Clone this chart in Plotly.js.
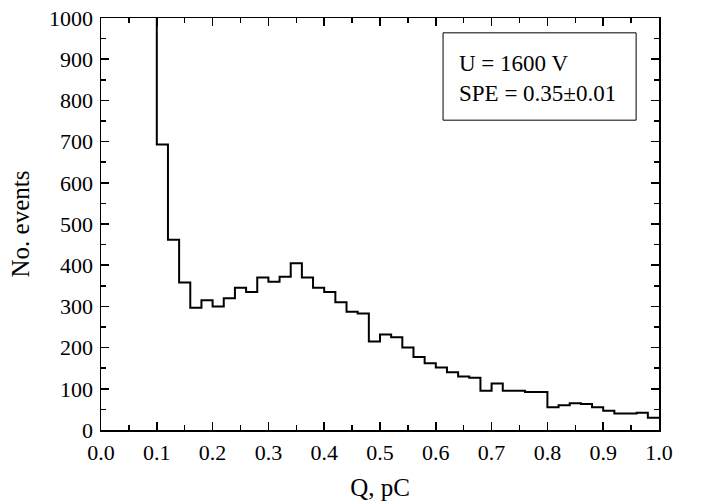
<!DOCTYPE html>
<html>
<head>
<meta charset="utf-8">
<script src="https://cdn.plot.ly/plotly-3.0.1.min.js"></script>
<style>html,body{margin:0;padding:0;background:#fff}#chart{width:702px;height:503px}</style>
</head>
<body>
<div id="chart"></div>
<script>
// Bin left edges (width 0.02 pC) and counts
const binLeft = [0.10,0.12,0.14,0.16,0.18,0.20,0.22,0.24,0.26,0.28,0.30,0.32,0.34,0.36,0.38,0.40,0.42,0.44,0.46,0.48,
                 0.50,0.52,0.54,0.56,0.58,0.60,0.62,0.64,0.66,0.68,0.70,0.72,0.74,0.76,0.78,0.80,0.82,0.84,0.86,0.88,
                 0.90,0.92,0.94,0.96,0.98];
const counts = [693,462,358,297,315,300,320,345,335,370,360,372,405,370,345,335,310,287,283,215,
                232,225,200,177,162,152,140,130,127,95,113,95,95,92,92,55,60,65,63,55,
                47,40,40,42,30];
const binWidth = 0.02;
const offScaleCount = 1200; // bins below 0.10 pC exceed the axis range
const xTicks = [0.0,0.1,0.2,0.3,0.4,0.5,0.6,0.7,0.8,0.9,1.0];
const yTicks = [0,100,200,300,400,500,600,700,800,900,1000];
const legendLines = ["U = 1600 V", "SPE = 0.35±0.01"];

const xs = [binLeft[0]].concat(binLeft, [binLeft[binLeft.length-1] + binWidth]);
const ys = [offScaleCount].concat(counts, [counts[counts.length-1]]);

const font = {family: "Liberation Serif, Times New Roman, serif", color: "#000"};
const axisCommon = {
  showline: true, linecolor: "#000", linewidth: 1.5, mirror: "ticks",
  ticks: "inside", ticklen: 8, tickwidth: 1.5, tickcolor: "#000",
  showgrid: false, zeroline: false,
  tickfont: Object.assign({size: 22}, font)
};

const layout = {
  width: 702, height: 503,
  margin: {l: 101, r: 43, t: 18, b: 73},
  paper_bgcolor: "#fff", plot_bgcolor: "#fff",
  showlegend: false,
  xaxis: Object.assign({}, axisCommon, {
    range: [0, 1], tickvals: xTicks, ticktext: xTicks.map(v => v.toFixed(1)),
    ticklabelstandoff: 2,
    minor: {ticks: "inside", ticklen: 5, tickwidth: 1.5, tickcolor: "#000", dtick: 0.05, showgrid: false},
    title: {text: "Q, pC", font: Object.assign({size: 25}, font), standoff: 14}
  }),
  yaxis: Object.assign({}, axisCommon, {
    range: [0, 1000], tickvals: yTicks, ticktext: yTicks.map(String),
    ticklabelstandoff: 2,
    minor: {ticks: "inside", ticklen: 5, tickwidth: 1.5, tickcolor: "#000", dtick: 50, showgrid: false},
    title: {text: "No. events", font: Object.assign({size: 25}, font), standoff: 12}
  }),
  shapes: [{type: "rect", xref: "paper", yref: "paper", x0: 0.613, x1: 0.959, y0: 0.752, y1: 0.964,
            line: {color: "#000", width: 1}, fillcolor: "rgba(0,0,0,0)"}],
  annotations: [{xref: "paper", yref: "paper", x: 0.638, y: 0.853, xanchor: "left", yanchor: "middle",
                 align: "left", showarrow: false, text: legendLines.join("<br>"),
                 font: Object.assign({size: 23}, font)}]
};

Plotly.newPlot("chart", [{
  type: "scatter", mode: "lines", x: xs, y: ys,
  line: {shape: "hv", color: "#000", width: 2}, hoverinfo: "skip"
}], layout, {displayModeBar: false, staticPlot: true});
</script>
</body>
</html>
